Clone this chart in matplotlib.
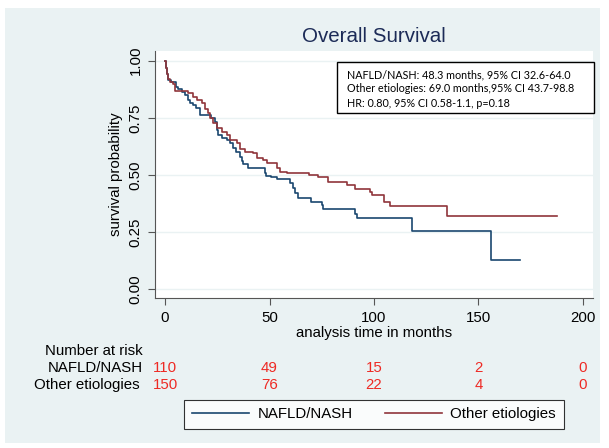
import matplotlib
matplotlib.use("Agg")
import matplotlib.pyplot as plt
from matplotlib.patches import Rectangle
from matplotlib.transforms import blended_transform_factory

plt.rcParams['font.family'] = ['Liberation Sans', 'DejaVu Sans']

# Kaplan-Meier steps (time of drop, survival after drop)
nafld_t = [0, 0.3, 0.8, 1.6, 3.0, 5.3, 6.4, 8.0, 9.6, 11.2, 12.0, 13.5, 15.0, 16.7,
           22.0, 23.9, 24.7, 25.5, 27.1, 29.5, 31.0, 32.6, 34.2, 35.8, 36.7, 37.5,
           39.5, 47.8, 48.3, 50.5, 53.4, 59.8, 61.4, 62.2, 63.7, 70.0, 75.0, 75.8,
           90.9, 91.7, 118.4, 156.2, 170.0]
nafld_s = [1.0, 0.97, 0.94, 0.915, 0.905, 0.886, 0.875, 0.865, 0.85, 0.828, 0.813, 0.806,
           0.795, 0.762, 0.75, 0.733, 0.696, 0.674, 0.66, 0.652, 0.638, 0.616, 0.60, 0.58,
           0.56, 0.549, 0.53, 0.51, 0.497, 0.49, 0.481, 0.463, 0.441, 0.419, 0.397, 0.382,
           0.368, 0.349, 0.331, 0.31, 0.255, 0.127, 0.127]

other_t = [0, 0.3, 0.8, 1.6, 2.4, 4.0, 4.8, 11.2, 13.5, 15.1, 17.5, 19.1, 20.7, 21.5,
           23.1, 24.7, 27.1, 29.5, 31.1, 34.3, 35.9, 38.3, 42.3, 43.9, 47.1, 48.7, 53.4,
           55.0, 58.2, 69.0, 73.4, 78.2, 87.0, 91.0, 98.2, 99.0, 104.6, 107.8, 135.1, 187.6]
other_s = [1.0, 0.97, 0.94, 0.92, 0.908, 0.90, 0.866, 0.857, 0.842, 0.828, 0.813, 0.79,
           0.77, 0.748, 0.726, 0.704, 0.689, 0.675, 0.653, 0.638, 0.612, 0.601, 0.594,
           0.572, 0.566, 0.553, 0.529, 0.514, 0.507, 0.50, 0.492, 0.47, 0.456, 0.437,
           0.426, 0.412, 0.382, 0.364, 0.319, 0.319]

risk_times = [0, 50, 100, 150, 200]
risk_nafld = [110, 49, 15, 2, 0]
risk_other = [150, 76, 22, 4, 0]

stats_lines = ["NAFLD/NASH: 48.3 months, 95% CI 32.6-64.0",
               "Other etiologies: 69.0 months,95% CI 43.7-98.8",
               "HR: 0.80, 95% CI 0.58-1.1, p=0.18"]

W, H = 609, 448
def fx(x): return x / W
def fy(y): return 1 - y / H

fig = plt.figure(figsize=(W / 100, H / 100), dpi=100, facecolor='white')
fig.patches.append(Rectangle((fx(5), fy(443)), fx(600) - fx(5), fy(8) - fy(443),
                             transform=fig.transFigure, facecolor='#eaf2f3',
                             edgecolor='none', zorder=-10))

ax = fig.add_axes([fx(155), fy(298), fx(593) - fx(155), fy(50.7) - fy(298)])
ax.set_facecolor('white')
blue = '#1a476f'
red = '#90353b'
ax.step(nafld_t, nafld_s, where='post', color=blue, lw=1.2, label='NAFLD/NASH')
ax.step(other_t, other_s, where='post', color=red, lw=1.2, label='Other etiologies')

ax.set_xlim(-4.8, 204.8)
ax.set_ylim(-0.039, 1.044)
ax.set_xticks([0, 50, 100, 150, 200])
ax.set_yticks([0, 0.25, 0.5, 0.75, 1.0])
ax.set_yticklabels(['0.00', '0.25', '0.50', '0.75', '1.00'], rotation=90, va='center')
ax.tick_params(labelsize=10.8, length=5, width=0.8, color='#555555', pad=4)
ax.grid(axis='y', color='#eaf2f3', lw=1)
ax.set_axisbelow(True)
for s in ['top', 'right']:
    ax.spines[s].set_visible(False)
for s in ['left', 'bottom']:
    ax.spines[s].set_color('#555555')
    ax.spines[s].set_linewidth(0.8)
ax.set_ylabel('survival probability', fontsize=10.8, labelpad=4)
ax.set_xlabel('analysis time in months', fontsize=10.8, labelpad=1)

fig.text(fx(374), fy(37), 'Overall Survival', fontsize=14.8, color='#1c2b57',
         ha='center', va='center')

# stats box
fig.patches.append(Rectangle((fx(337), fy(113)), fx(594) - fx(337), fy(62) - fy(113),
                             transform=fig.transFigure, facecolor='white',
                             edgecolor='black', lw=1, zorder=5))
for i, line in enumerate(stats_lines):
    fig.text(fx(347), fy(74.5 + 14.5 * i), line, fontsize=7.75, family=['Lato', 'DejaVu Sans'],
             ha='left', va='center', zorder=6)

# number at risk
tr = blended_transform_factory(ax.transData, fig.transFigure)
fig.text(fx(143), fy(351), 'Number at risk', fontsize=10.8, ha='right', va='center')
fig.text(fx(143), fy(368), 'NAFLD/NASH', fontsize=10.8, ha='right', va='center')
fig.text(fx(140), fy(385), 'Other etiologies', fontsize=10.8, ha='right', va='center')
for t, a, b in zip(risk_times, risk_nafld, risk_other):
    fig.text(t, fy(368), str(a), transform=tr, fontsize=10.8, color='#ee2a24',
             ha='center', va='center')
    fig.text(t, fy(385), str(b), transform=tr, fontsize=10.8, color='#ee2a24',
             ha='center', va='center')

leg = fig.legend(loc='center', bbox_to_anchor=(fx(374), fy(414)), ncol=2, fontsize=10.8,
                 frameon=True, fancybox=False, edgecolor='black', handlelength=3.8,
                 handletextpad=0.6, columnspacing=2.1, borderpad=0.5, borderaxespad=0)
leg.get_frame().set_linewidth(0.8)

fig.savefig('out.png', dpi=100, facecolor='white')
